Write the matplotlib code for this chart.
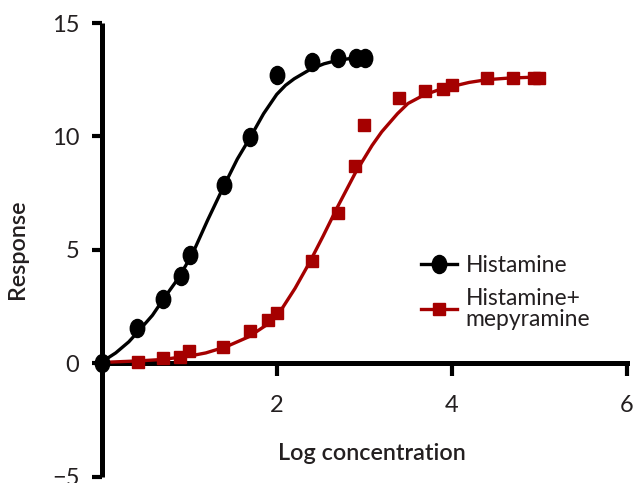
import matplotlib
matplotlib.use("Agg")
import matplotlib.pyplot as plt
from matplotlib.path import Path
from matplotlib.lines import Line2D
import numpy as np

# ---- data ----
hist_x = [0, 0.40, 0.70, 0.91, 1.01, 1.40, 1.70, 2.00, 2.40, 2.70, 2.91, 3.01]
hist_y = [0, 1.53, 2.85, 3.86, 4.78, 7.84, 9.97, 12.71, 13.30, 13.47, 13.47, 13.47]

mep_x = [0.41, 0.70, 0.90, 1.00, 1.39, 1.70, 1.90, 2.00, 2.40, 2.70, 2.90, 3.00,
         3.40, 3.70, 3.90, 4.00, 4.40, 4.70, 4.94, 5.00]
mep_y = [0.03, 0.21, 0.28, 0.55, 0.72, 1.42, 1.88, 2.19, 4.50, 6.61, 8.69, 10.51,
         11.70, 12.01, 12.10, 12.27, 12.57, 12.57, 12.57, 12.57]

hist_fit_x = [0, 0.16, 0.31, 0.43, 0.58, 0.71, 0.84, 0.96, 1.07, 1.21, 1.40, 1.55,
              1.70, 1.85, 2.00, 2.10, 2.20, 2.39, 2.54, 2.69, 2.85, 3.00]
hist_fit_y = [0.05, 0.45, 0.94, 1.45, 2.11, 2.85, 3.55, 4.30, 5.10, 6.30, 7.84, 9.00,
              9.97, 11.00, 11.85, 12.25, 12.54, 12.97, 13.20, 13.35, 13.44, 13.50]

mep_fit_x = [0, 0.43, 0.69, 1.00, 1.19, 1.42, 1.68, 1.91, 2.06, 2.21, 2.37, 2.53,
             2.69, 2.90, 3.09, 3.20, 3.38, 3.50, 3.68, 3.85, 3.98, 4.20, 4.40,
             4.65, 4.93, 5.00]
mep_fit_y = [0.03, 0.10, 0.16, 0.31, 0.45, 0.72, 1.16, 1.75, 2.40, 3.30, 4.40, 5.60,
             6.85, 8.40, 9.60, 10.20, 11.00, 11.45, 11.82, 12.05, 12.18, 12.38, 12.50,
             12.57, 12.61, 12.62]

x_ticks = [2, 4, 6]
y_ticks = [-5, 0, 5, 10, 15]
labels = ["Histamine", "Histamine+\nmepyramine"]

BLACK = "#000000"
RED = "#a50000"
TXT = "#231f20"

plt.rcParams['font.family'] = ['Lato', 'DejaVu Sans']

fig = plt.figure(figsize=(6.36, 4.83), dpi=100)
ax = fig.add_axes([101.7 / 636, 6.5 / 483, 525 / 636, 453.5 / 483])

# elliptical marker (slightly taller than wide, as in reference)
circ = Path.unit_circle()
ell = Path(circ.vertices * np.array([0.8, 1.0]), circ.codes)

ax.plot(hist_fit_x, hist_fit_y, color=BLACK, lw=2.4, zorder=3,
        solid_capstyle='round', solid_joinstyle='round')
ax.plot(mep_fit_x, mep_fit_y, color=RED, lw=2.4, zorder=3,
        solid_capstyle='round', solid_joinstyle='round')
ax.plot(hist_x, hist_y, ls='none', marker=ell, ms=13, color=BLACK, zorder=4, clip_on=False)
ax.plot(mep_x, mep_y, ls='none', marker='s', ms=9, color=RED, zorder=4, clip_on=False)

ax.set_xlim(0, 6)
ax.set_ylim(-5, 15)

for s in ['top', 'right']:
    ax.spines[s].set_visible(False)
ax.spines['bottom'].set_position(('data', 0))
ax.spines['left'].set_linewidth(3.6)
ax.spines['bottom'].set_linewidth(3.6)
ax.spines['left'].set_capstyle('butt')

ax.set_xticks(x_ticks)
ax.set_yticks(y_ticks)
ax.set_yticklabels(["\u22125" if v < 0 else str(v) for v in y_ticks])
ax.tick_params(axis='x', direction='out', length=9, width=3, pad=14,
               labelsize=17, labelcolor=TXT)
ax.tick_params(axis='y', direction='out', length=7, width=3, pad=9,
               labelsize=17, labelcolor=TXT)

ax.set_xlabel("Log concentration", fontsize=16.8, fontweight='semibold', color=TXT)
ax.xaxis.set_label_coords((372 - 101.7) / 525, (477 - 454) / 453.5)
ax.xaxis.label.set_va('center')
ax.set_ylabel("Response", fontsize=16.8, fontweight='semibold', color=TXT)
ax.yaxis.set_label_coords(-(101.7 - 17.5) / 525, (477 - 250) / 453.5)
ax.yaxis.label.set_va('center')

handles = [
    Line2D([], [], color=BLACK, lw=2.4, marker=ell, ms=13),
    Line2D([], [], color=RED, lw=2.4, marker='s', ms=9),
]
leg = ax.legend(handles, labels, loc='upper left',
                bbox_to_anchor=((421 - 101.7) / 525, (477 - 256) / 453.5),
                frameon=False, fontsize=16.5, handlelength=1.55, handletextpad=0.4,
                borderpad=0, borderaxespad=0, labelspacing=0.5, numpoints=1)
for t in leg.get_texts():
    t.set_color(TXT)
    t.set_linespacing(1.0)

fig.savefig("out.png", dpi=100)
